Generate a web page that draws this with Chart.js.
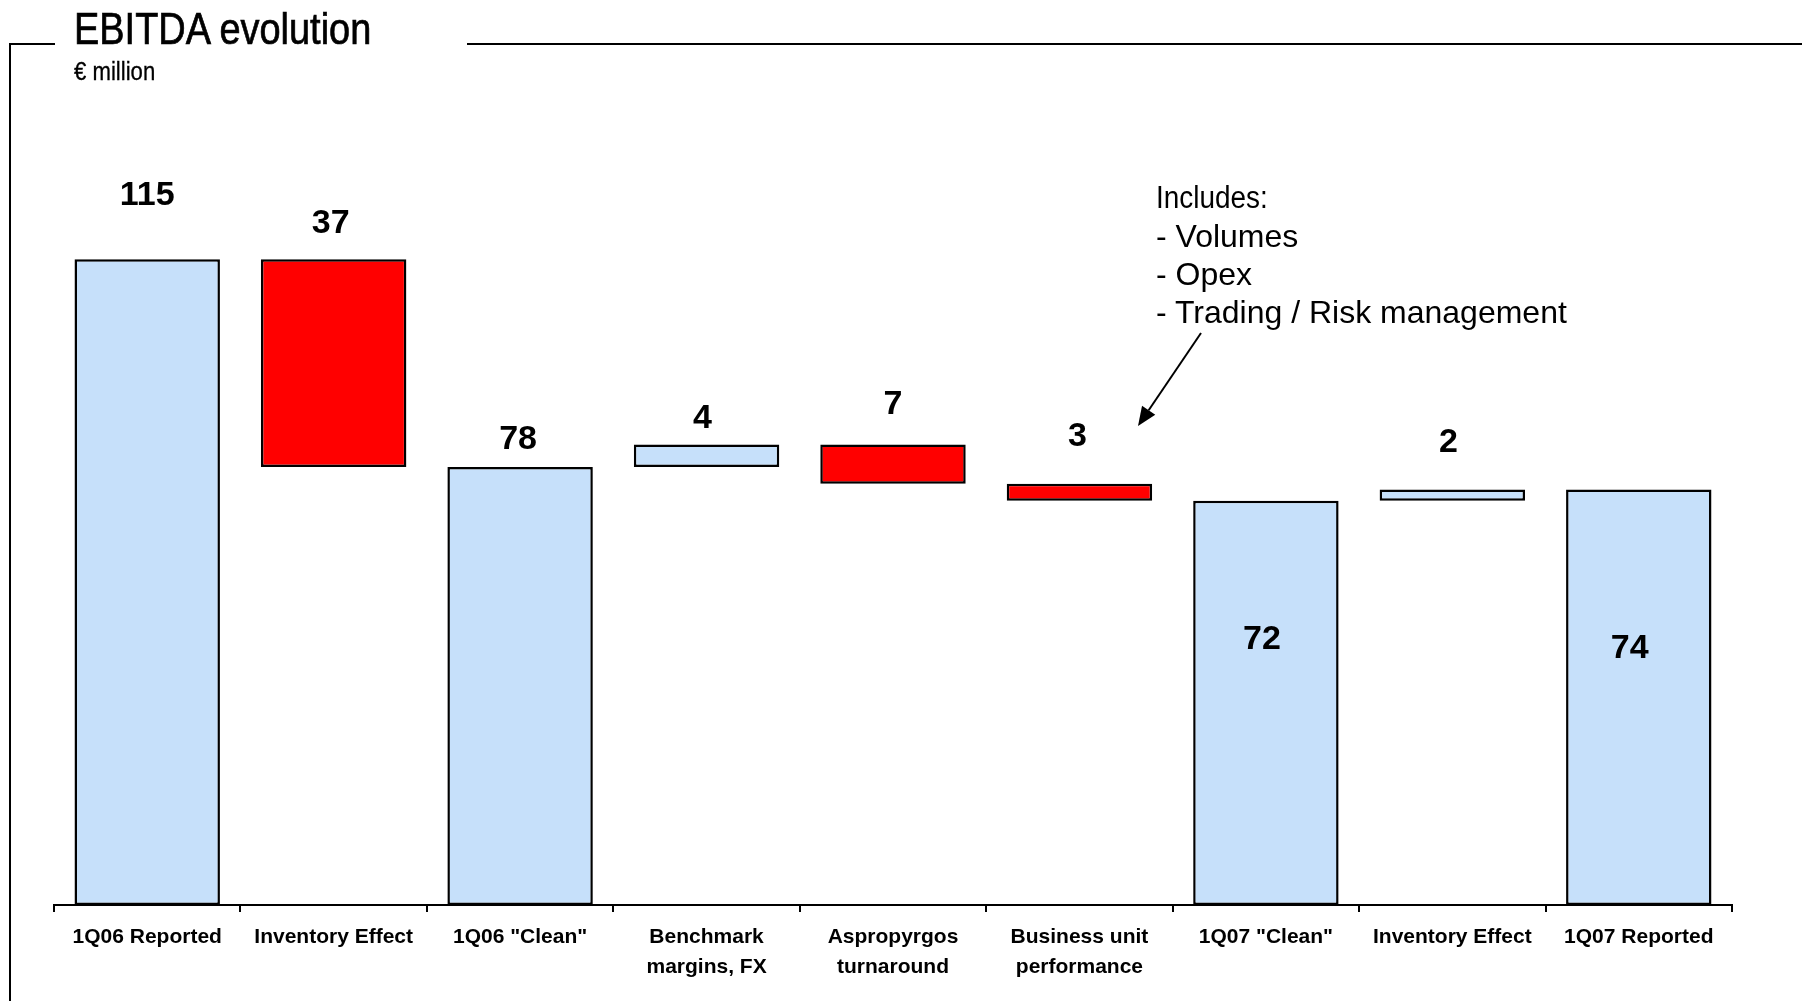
<!DOCTYPE html>
<html>
<head>
<meta charset="utf-8">
<title>EBITDA evolution</title>
<script src="https://cdn.jsdelivr.net/npm/chart.js@4.4.1/dist/chart.umd.min.js"></script>
<style>
  html, body { margin: 0; padding: 0; background: #fff; }
  #wrap { position: relative; width: 1802px; height: 1001px; overflow: hidden; background: #fff; }
  #chart { position: absolute; left: 0; top: 0; }
  .rule { position: absolute; background: #000; }
  /* condensed headings: regular face squeezed horizontally */
  #title {
    position: absolute; left: 74px; top: 7px; white-space: nowrap;
    font-family: "Liberation Sans", Arial, sans-serif;
    font-size: 44px; line-height: 44px; color: #000;
    -webkit-text-stroke: 0.7px #000;
    transform: scaleX(0.862); transform-origin: 0 0;
  }
  #unit {
    position: absolute; left: 74px; top: 59px; white-space: nowrap;
    font-family: "Liberation Sans", Arial, sans-serif;
    font-size: 25px; line-height: 25px; color: #000;
    -webkit-text-stroke: 0.3px #000;
    transform: scaleX(0.886); transform-origin: 0 0;
  }
  #note {
    position: absolute; left: 1156px; top: 178px; white-space: nowrap;
    font-family: "Liberation Sans", Arial, sans-serif;
    font-size: 32px; line-height: 38px; color: #000;
  }
  #note .head { display: inline-block; font-size: 31px; transform: scaleX(0.9); transform-origin: 0 50%; }
</style>
</head>
<body>
<div id="wrap">
  <canvas id="chart" width="1802" height="1001"></canvas>
  <div class="rule" style="left:9px; top:43px; width:46px; height:2px;"></div>
  <div class="rule" style="left:467px; top:43px; width:1335px; height:2px;"></div>
  <div class="rule" style="left:9px; top:43px; width:2px; height:958px;"></div>
  <div id="title">EBITDA evolution</div>
  <div id="unit">€ million</div>
  <div id="note"><span class="head">Includes:</span><br>- Volumes<br>- Opex<br>- Trading / Risk management</div>
</div>
<script>
// Waterfall steps, € million
const categories = [
  ['1Q06 Reported'],
  ['Inventory Effect'],
  ['1Q06 "Clean"'],
  ['Benchmark', 'margins, FX'],
  ['Aspropyrgos', 'turnaround'],
  ['Business unit', 'performance'],
  ['1Q07 "Clean"'],
  ['Inventory Effect'],
  ['1Q07 Reported']
];
const stepValues = [115, -37, 78, 4, -7, -3, 72, 2, 74];
const stepKinds = ['total', 'delta', 'total', 'delta', 'delta', 'delta', 'total', 'delta', 'total'];
const yMax = 130;

const BLUE = '#C6E0FA';
const RED = '#FF0000';

// Running level turns steps into floating [start, end] bars
const floatingBars = [];
const barColors = [];
let level = 0;
stepValues.forEach((v, i) => {
  if (stepKinds[i] === 'total') {
    floatingBars.push([0, v]);
    level = v;
    barColors.push(BLUE);
  } else {
    floatingBars.push([level, level + v]);
    level += v;
    barColors.push(v < 0 ? RED : BLUE);
  }
});
const valueLabels = stepValues.map(v => String(Math.abs(v)));

// Value labels: lift above the bar top in px (negative = inside the bar), small x nudges
const valueLabelPlugin = {
  id: 'valueLabels',
  afterDatasetsDraw(chart, args, opts) {
    const ctx = chart.ctx;
    const meta = chart.getDatasetMeta(0);
    ctx.save();
    ctx.font = 'bold ' + opts.size + 'px "Liberation Sans", Arial, sans-serif';
    ctx.fillStyle = '#000';
    ctx.textAlign = 'center';
    ctx.textBaseline = 'alphabetic';
    meta.data.forEach((bar, i) => {
      const top = Math.min(bar.y, bar.base);
      const cy = top - opts.lift[i];
      ctx.fillText(valueLabels[i], bar.x + opts.dx[i], cy + opts.size * 0.358);
    });
    ctx.restore();
  }
};

// Callout arrow from the note down towards the business unit bar
const calloutPlugin = {
  id: 'callout',
  afterDraw(chart, args, opts) {
    const ctx = chart.ctx;
    const [x0, y0] = opts.from;
    const [x1, y1] = opts.to;
    const ang = Math.atan2(y1 - y0, x1 - x0);
    const hl = 19, hw = 8;
    const bx = x1 - hl * Math.cos(ang), by = y1 - hl * Math.sin(ang);
    ctx.save();
    ctx.strokeStyle = '#000';
    ctx.fillStyle = '#000';
    ctx.lineWidth = 2;
    ctx.beginPath();
    ctx.moveTo(x0, y0);
    ctx.lineTo(bx, by);
    ctx.stroke();
    ctx.beginPath();
    ctx.moveTo(x1, y1);
    ctx.lineTo(bx + hw * Math.sin(ang), by - hw * Math.cos(ang));
    ctx.lineTo(bx - hw * Math.sin(ang), by + hw * Math.cos(ang));
    ctx.closePath();
    ctx.fill();
    ctx.restore();
  }
};

new Chart(document.getElementById('chart'), {
  type: 'bar',
  data: {
    labels: categories,
    datasets: [{
      data: floatingBars,
      backgroundColor: barColors,
      borderColor: '#000',
      borderWidth: 2.5,
      borderSkipped: false,
      barPercentage: 0.78,
      categoryPercentage: 1.0
    }]
  },
  options: {
    responsive: false,
    devicePixelRatio: 1,
    animation: false,
    layout: { padding: { left: 54, right: 70, top: 175, bottom: 0 } },
    plugins: {
      legend: { display: false },
      tooltip: { enabled: false },
      valueLabels: {
        size: 34,
        lift: [66, 38, 30, 29, 43, 50, -136, 50, -156],
        dx: [0, -3, -2, -4, 0, -2, -4, -4, -9]
      },
      callout: { from: [1201, 333], to: [1138, 426] }
    },
    scales: {
      x: {
        afterFit(scale) { scale.height = 96; },
        grid: {
          display: true,
          drawOnChartArea: false,
          drawTicks: true,
          tickLength: 7,
          color: '#000',
          lineWidth: 2,
          offset: true
        },
        border: { display: true, color: '#000', width: 2 },
        ticks: {
          autoSkip: false,
          maxRotation: 0,
          padding: 10,
          color: '#000',
          font: { family: '"Liberation Sans", Arial, sans-serif', size: 21, weight: 'bold', lineHeight: 1.45 }
        }
      },
      y: { display: false, min: 0, max: yMax }
    }
  },
  plugins: [valueLabelPlugin, calloutPlugin]
});
</script>
</body>
</html>
